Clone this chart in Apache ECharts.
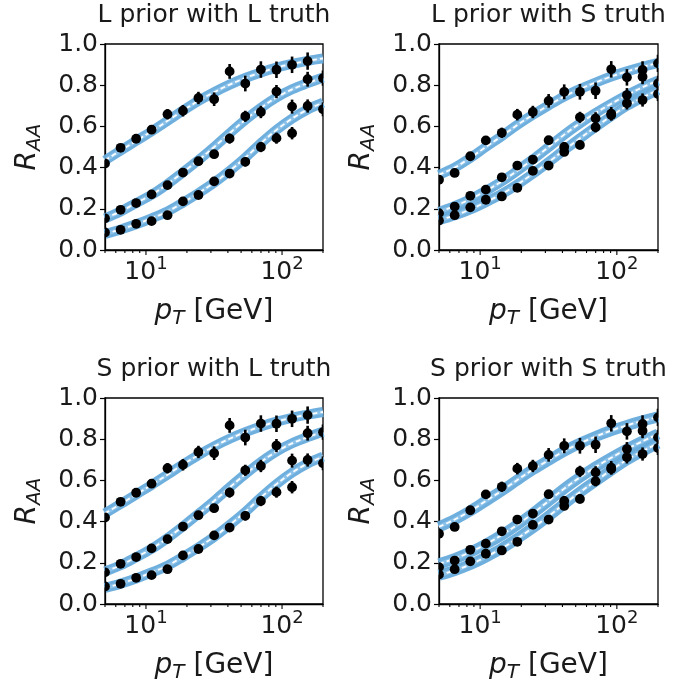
<!DOCTYPE html>
<html>
<head>
<meta charset="utf-8">
<script src="https://cdn.jsdelivr.net/npm/echarts@6.0.0/dist/echarts.min.js"></script>
<style>
html,body{margin:0;padding:0;background:#fff;}
#chart{width:696px;height:689px;}
</style>
</head>
<body>
<div id="chart"></div>
<script>
// ---------------- data ----------------
const pT = [5, 6.51, 8.47, 11.0, 14.4, 18.7, 24.3, 31.7, 41.2, 53.7, 69.9, 91.0, 118.5, 154.2, 200];

// pseudo-data points, L truth
const L_high = [0.42, 0.496, 0.54, 0.584, 0.659, 0.676, 0.738, 0.732, 0.867, 0.808, 0.876, 0.875, 0.899, 0.917, null];
const L_mid  = [0.154, 0.195, 0.228, 0.27, 0.315, 0.376, 0.431, 0.465, 0.541, 0.649, 0.67, 0.769, 0.696, 0.829, 0.834];
const L_low  = [0.085, 0.098, 0.127, 0.14, 0.169, 0.236, 0.267, 0.333, 0.371, 0.428, 0.5, 0.543, 0.567, 0.699, 0.683];

// pseudo-data points, S truth
const S_high = [0.341, 0.374, 0.455, 0.532, 0.569, 0.657, 0.67, 0.724, 0.768, 0.768, 0.773, 0.877, 0.838, 0.874, 0.906];
const S_mid  = [0.179, 0.211, 0.263, 0.293, 0.353, 0.41, 0.439, 0.533, 0.5, 0.644, 0.639, 0.662, 0.752, 0.841, 0.809];
const S_low  = [0.143, 0.169, 0.207, 0.244, 0.26, 0.302, 0.384, 0.41, 0.476, 0.51, 0.596, 0.655, 0.712, 0.728, 0.757];

// error bars
const err_high = [0.012, 0.015, 0.018, 0.02, 0.025, 0.028, 0.03, 0.033, 0.036, 0.038, 0.04, 0.04, 0.04, 0.042, 0.042];
const err_mid  = [0.008, 0.01, 0.011, 0.012, 0.013, 0.015, 0.017, 0.02, 0.024, 0.027, 0.03, 0.032, 0.034, 0.036, 0.037];
const err_low  = [0.006, 0.007, 0.008, 0.009, 0.01, 0.012, 0.014, 0.016, 0.019, 0.022, 0.025, 0.027, 0.03, 0.032, 0.034];

// posterior curves (band centers)
const LL_c1 = [0.435, 0.483, 0.53, 0.576, 0.627, 0.677, 0.724, 0.766, 0.803, 0.835, 0.862, 0.885, 0.903, 0.918, 0.93];
const LL_c2 = [0.154, 0.187, 0.228, 0.268, 0.32, 0.377, 0.436, 0.5, 0.567, 0.632, 0.69, 0.74, 0.78, 0.81, 0.837];
const LL_c3 = [0.078, 0.1, 0.125, 0.154, 0.187, 0.23, 0.276, 0.327, 0.384, 0.448, 0.518, 0.583, 0.638, 0.682, 0.715];

const LS_c1 = [0.365, 0.4, 0.447, 0.5, 0.553, 0.607, 0.656, 0.702, 0.745, 0.781, 0.813, 0.842, 0.867, 0.889, 0.908];
const LS_c2 = [0.185, 0.213, 0.247, 0.287, 0.333, 0.385, 0.44, 0.5, 0.56, 0.615, 0.665, 0.71, 0.752, 0.79, 0.822];
const LS_c3 = [0.145, 0.168, 0.197, 0.232, 0.272, 0.318, 0.37, 0.427, 0.485, 0.542, 0.597, 0.65, 0.70, 0.74, 0.777];

const SL_c1 = [0.44, 0.485, 0.532, 0.578, 0.628, 0.677, 0.723, 0.765, 0.802, 0.834, 0.862, 0.885, 0.904, 0.919, 0.932];
const SL_c2 = [0.158, 0.188, 0.227, 0.268, 0.32, 0.377, 0.437, 0.5, 0.566, 0.63, 0.689, 0.74, 0.78, 0.81, 0.836];
const SL_c3 = [0.078, 0.099, 0.124, 0.153, 0.186, 0.229, 0.275, 0.326, 0.384, 0.447, 0.517, 0.582, 0.638, 0.682, 0.715];

const SS_c1 = [0.375, 0.41, 0.452, 0.5, 0.55, 0.602, 0.652, 0.698, 0.742, 0.78, 0.813, 0.842, 0.867, 0.889, 0.908];
const SS_c2 = [0.195, 0.22, 0.252, 0.29, 0.335, 0.385, 0.44, 0.5, 0.56, 0.615, 0.665, 0.71, 0.752, 0.79, 0.825];
const SS_c3 = [0.14, 0.163, 0.192, 0.228, 0.27, 0.318, 0.37, 0.427, 0.486, 0.543, 0.597, 0.65, 0.70, 0.742, 0.78];

const titles = ['L prior with L truth', 'L prior with S truth', 'S prior with L truth', 'S prior with S truth'];
const majorXTicks = [10, 100];
const minorXTicks = [5, 6, 7, 8, 9, 20, 30, 40, 50, 60, 70, 80, 90, 200];

const panels = [
  {curves: [LL_c1, LL_c2, LL_c3], pts: [L_high, L_mid, L_low], band: 10},
  {curves: [LS_c1, LS_c2, LS_c3], pts: [S_high, S_mid, S_low], band: 10},
  {curves: [SL_c1, SL_c2, SL_c3], pts: [L_high, L_mid, L_low], band: 10},
  {curves: [SS_c1, SS_c2, SS_c3], pts: [S_high, S_mid, S_low], band: 11}
];
const errs = [err_high, err_mid, err_low];

// ---------------- layout / style ----------------
const FONT = '"DejaVu Sans", sans-serif';
const TXT = '#1a1a1a';
const BAND = '#66abdc';
const gridRects = [
  {left: 105, top: 44, width: 218, height: 206},
  {left: 439, top: 44, width: 219, height: 206},
  {left: 105, top: 398, width: 218, height: 206},
  {left: 439, top: 398, width: 219, height: 206}
];

const chart = echarts.init(document.getElementById('chart'), null, {renderer: 'canvas'});

const grid = [], xAxis = [], yAxis = [], series = [], graphic = [];

function isPow10(v, p) { return Math.abs(Math.log10(v) - p) < 1e-6; }

gridRects.forEach((g, i) => {
  grid.push(Object.assign({show: true, borderColor: '#000', borderWidth: 1.3, backgroundColor: 'transparent', outerBoundsMode: 'none', containLabel: false}, g));
  xAxis.push({
    type: 'log', logBase: 10, gridIndex: i, min: 5, max: 200,
    splitLine: {show: false}, minorSplitLine: {show: false},
    axisLine: {show: true, onZero: false, lineStyle: {color: '#000', width: 1.3}},
    axisTick: {show: false},
    axisLabel: {
      show: true, margin: 5, color: TXT, fontFamily: FONT, fontSize: 25,
      formatter: v => isPow10(v, 1) ? '{b|10}{s|1}' : (isPow10(v, 2) ? '{b|10}{s|2}' : ''),
      rich: {
        b: {fontSize: 25, fontFamily: FONT, color: TXT, lineHeight: 34},
        s: {fontSize: 18, fontFamily: FONT, color: TXT, lineHeight: 18, verticalAlign: 'top'}
      }
    },
    name: '{i|p}{t|T} [GeV]', nameLocation: 'middle', nameGap: 45,
    nameTextStyle: {
      fontSize: 28, fontFamily: FONT, color: TXT, lineHeight: 34,
      rich: {
        i: {fontSize: 28, fontFamily: FONT, fontStyle: 'italic', color: TXT, lineHeight: 34},
        t: {fontSize: 20, fontFamily: FONT, fontStyle: 'italic', color: TXT, lineHeight: 18, verticalAlign: 'bottom'}
      }
    }
  });
  yAxis.push({
    type: 'value', gridIndex: i, min: 0, max: 1, interval: 0.2,
    splitLine: {show: false},
    axisLine: {show: true, onZero: false, lineStyle: {color: '#000', width: 1.3}},
    axisTick: {show: true, inside: false, length: 5, lineStyle: {color: '#000', width: 1.2}},
    axisLabel: {margin: 7, color: TXT, fontFamily: FONT, fontSize: 25, formatter: v => v.toFixed(1)},
    name: '{i|R}{t|AA}', nameLocation: 'middle', nameRotate: 90, nameGap: 60,
    nameTextStyle: {
      fontSize: 28, fontFamily: FONT, color: TXT, lineHeight: 34,
      rich: {
        i: {fontSize: 28, fontFamily: FONT, fontStyle: 'italic', color: TXT, lineHeight: 34},
        t: {fontSize: 20, fontFamily: FONT, fontStyle: 'italic', color: TXT, lineHeight: 18, verticalAlign: 'bottom'}
      }
    }
  });

  const p = panels[i];
  // bands
  p.curves.forEach(c => {
    const d = pT.map((x, k) => [x, c[k]]);
    const common = {type: 'line', xAxisIndex: i, yAxisIndex: i, data: d, showSymbol: false, smooth: 0.35, silent: true};
    series.push(Object.assign({z: 2, lineStyle: {color: BAND, width: p.band, opacity: 0.95}}, common));
    series.push(Object.assign({z: 3, lineStyle: {color: '#8cc2e9', width: 4}}, common));
    series.push(Object.assign({z: 4, lineStyle: {color: '#ffffff', width: 1.8, type: [5, 3]}}, common));
  });
  // data points with error bars
  p.pts.forEach((arr, s) => {
    const d = [];
    arr.forEach((v, k) => { if (v !== null) d.push([pT[k], v, errs[s][k]]); });
    series.push({
      type: 'custom', xAxisIndex: i, yAxisIndex: i, clip: true, z: 10, silent: true, data: d,
      renderItem: (params, api) => {
        const x = api.value(0), y = api.value(1), e = api.value(2);
        const c = api.coord([x, y]), t = api.coord([x, y + e]), b = api.coord([x, y - e]);
        return {type: 'group', children: [
          {type: 'line', shape: {x1: c[0], y1: t[1], x2: c[0], y2: b[1]}, style: {stroke: '#000', lineWidth: 2.6}},
          {type: 'circle', shape: {cx: c[0], cy: c[1], r: 4.9}, style: {fill: '#000'}}
        ]};
      }
    });
  });
  // x ticks (major & minor) drawn at axis positions
  [[majorXTicks, 5], [minorXTicks, 3]].forEach(([ticks, len]) => {
    series.push({
      type: 'custom', xAxisIndex: i, yAxisIndex: i, clip: false, z: 12, silent: true,
      data: ticks.map(v => [v, 0]),
      renderItem: (params, api) => {
        const q = api.coord([api.value(0), 0]);
        return {type: 'line', shape: {x1: q[0], y1: q[1], x2: q[0], y2: q[1] + len}, style: {stroke: '#000', lineWidth: 1.1}};
      }
    });
  });
  graphic.push({
    type: 'text', x: g.left + g.width / 2, y: g.top - 29,
    style: {text: titles[i], font: '25px ' + FONT, fill: TXT, align: 'center', verticalAlign: 'middle', textAlign: 'center', textVerticalAlign: 'middle'}
  });
});

chart.setOption({
  animation: false,
  backgroundColor: '#fff',
  grid, xAxis, yAxis, series, graphic
});
</script>
</body>
</html>
